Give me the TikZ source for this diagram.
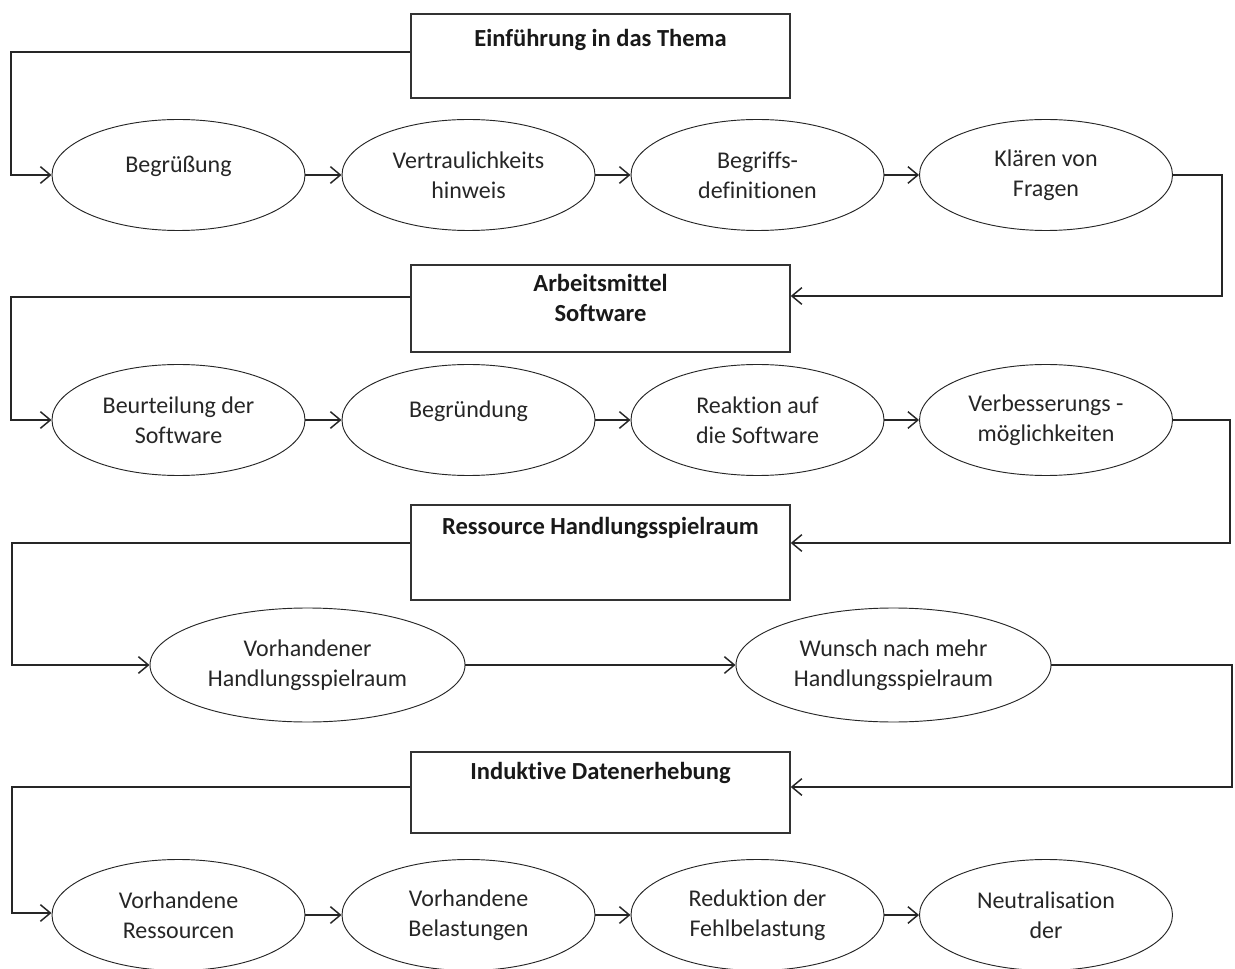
\documentclass[tikz,border=0pt]{standalone}
\usepackage{fontspec}
\setmainfont{Carlito}[Ligatures=NoCommon]
\usetikzlibrary{shapes.geometric,arrows.meta}
\begin{document}
\begin{tikzpicture}[x=0.75pt, y=-0.75pt, font=\fontsize{18}{22.5}\selectfont,
  themabox/.style={draw=black!80, line width=1.1pt, minimum width=284.25pt, inner sep=0pt},
  titel/.style={font=\fontsize{18.4}{22.5}\selectfont\bfseries, align=center, text=black!90},
  schritt/.style={ellipse, draw=black!85, line width=0.7pt, minimum width=189.75pt,
    minimum height=83.25pt, inner sep=0pt, align=center, text=black!85},
  breit/.style={minimum width=236.25pt, minimum height=85.5pt},
  einzeilig/.style={text depth=15.5pt},
  linie/.style={line width=1.4pt, black!85},
  pfeil/.style={linie, -{Straight Barb[length=7.5pt, width=12.5pt, line width=1.1pt]}}]
  \clip (0,0) rectangle (1235,969);
  % Themenblöcke
  \node[themabox, minimum height=63pt] (thema) at (600.5,56) {};
  \node[titel] (thematxt) at (600.5,40) {Einführung in das Thema};
  \node[themabox, minimum height=65.25pt] (arbeit) at (600.5,308.5) {};
  \node[titel] (arbeittxt) at (600.5,298) {Arbeitsmittel\\ Software};
  \node[themabox, minimum height=71.25pt] (raum) at (600.5,552.5) {};
  \node[titel] (raumtxt) at (600.5,528) {Ressource Handlungsspielraum};
  \node[themabox, minimum height=60.75pt] (induktiv) at (600.5,792.5) {};
  \node[titel] (induktivtxt) at (600.5,773) {Induktive Datenerhebung};
  % Schritte
  \node[schritt, einzeilig] (e1) at (178.5,175) {Begrüßung};
  \node[schritt] (e2) at (468.5,175) {Vertraulichkeits\\ hinweis};
  \node[schritt] (e3) at (757.5,175) {Begriffs-\\ definitionen};
  \node[schritt] (e4) at (1046,175) {Klären von\\ Fragen};
  \node[schritt] (s1) at (178.5,420) {Beurteilung der\\ Software};
  \node[schritt, einzeilig] (s2) at (468.5,420) {Begründung};
  \node[schritt] (s3) at (757.5,420) {Reaktion auf\\ die Software};
  \node[schritt] (s4) at (1046,420) {Verbesserungs -\\ möglichkeiten};
  \node[schritt, breit] (h1) at (307.5,665) {Vorhandener\\ Handlungsspielraum};
  \node[schritt, breit] (h2) at (893.5,665) {Wunsch nach mehr\\ Handlungsspielraum};
  \node[schritt] (d1) at (178.5,915) {Vorhandene\\ Ressourcen};
  \node[schritt] (d2) at (468.5,915) {Vorhandene\\ Belastungen};
  \node[schritt] (d3) at (757.5,915) {Reduktion der\\ Fehlbelastung};
  \node[schritt] (d4) at (1046,915) {Neutralisation\\ der};
  % Verbindungen
  \draw[pfeil] (thema.west |- 0,52) -| (11,175) -- (e1.west);
  \draw[pfeil] (e1) -- (e2);
  \draw[pfeil] (e2) -- (e3);
  \draw[pfeil] (e3) -- (e4);
  \draw[pfeil] (e4.east) -| (1222,296) -- (arbeit.east |- 0,296);
  \draw[pfeil] (arbeit.west |- 0,297) -| (11,420) -- (s1.west);
  \draw[pfeil] (s1) -- (s2);
  \draw[pfeil] (s2) -- (s3);
  \draw[pfeil] (s3) -- (s4);
  \draw[pfeil] (s4.east) -| (1230,543) -- (raum.east |- 0,543);
  \draw[pfeil] (raum.west |- 0,543) -| (12,665) -- (h1.west);
  \draw[pfeil] (h1) -- (h2);
  \draw[pfeil] (h2.east) -| (1232,787) -- (induktiv.east |- 0,787);
  \draw[pfeil] (induktiv.west |- 0,787) -| (12,913) -- (d1.west |- 0,913);
  \draw[pfeil] (d1) -- (d2);
  \draw[pfeil] (d2) -- (d3);
  \draw[pfeil] (d3) -- (d4);
\end{tikzpicture}
\end{document}
